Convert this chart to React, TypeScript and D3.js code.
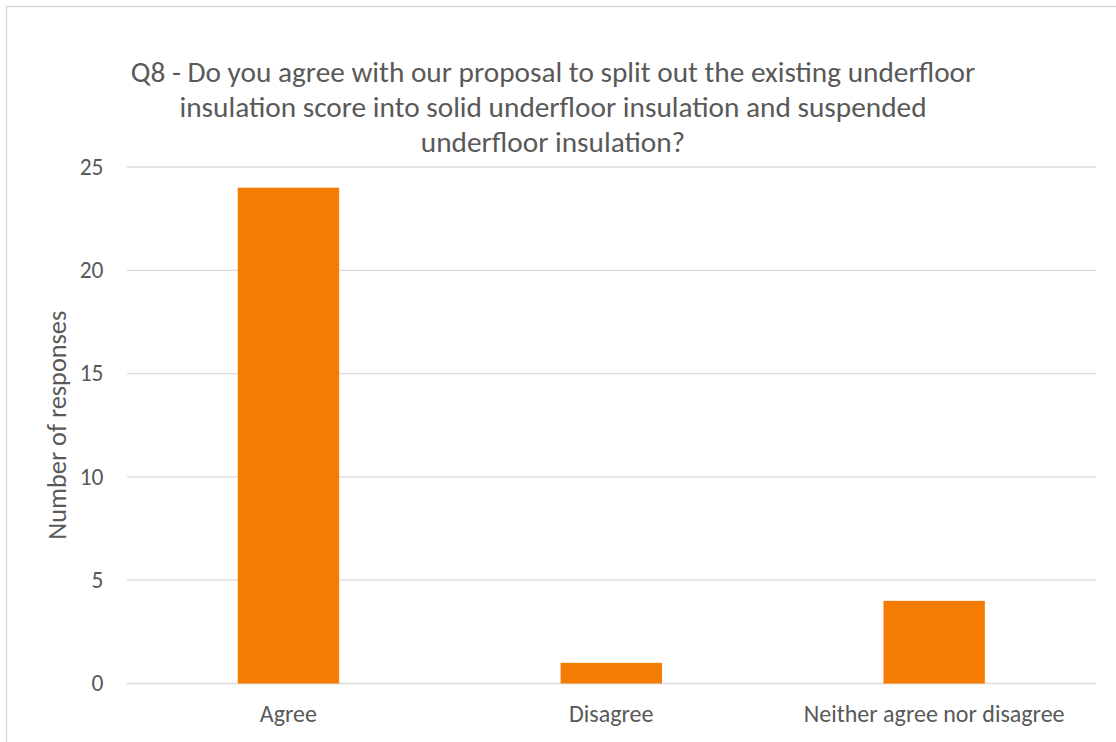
import React from "react";
import * as d3 from "d3";

const categories = ["Agree", "Disagree", "Neither agree nor disagree"];
const values = [24, 1, 4];
const yTicks = [0, 5, 10, 15, 20, 25];
const titleLines = [
  "Q8 - Do you agree with our proposal to split out the existing underfloor",
  "insulation score into solid underfloor insulation and suspended",
  "underfloor insulation?",
];
const yAxisTitle = "Number of responses";

const W = 1116;
const H = 742;
const FONT = "Carlito, Calibri, 'Open Sans', sans-serif";
const TEXT = "#595959";
const GRID = "#d9d9d9";
const BAR = "#f47c03";

export default function App() {
  const left = 127;
  const right = 1095.6;
  const top = 167;
  const bottom = 683.5;

  const x = d3.scaleBand<string>().domain(categories).range([left, right]).paddingInner(0.686).paddingOuter(0.343);
  const y = d3.scaleLinear().domain([0, 25]).range([bottom, top]);

  return (
    <svg width={W} height={H} style={{ position: "absolute", left: 0, top: 0, background: "#fff" }}>
      <rect x={6.5} y={6.5} width={W + 20} height={H + 20} fill="#fff" stroke={GRID} strokeWidth={1.5} />
      {titleLines.map((t, i) => (
        <text key={i} x={553} y={81.5 + i * 35} textAnchor="middle" fontFamily={FONT} fontSize={29.3} fill={TEXT}>
          {t}
        </text>
      ))}
      {yTicks.map((t) => (
        <g key={t}>
          <line x1={left} x2={right} y1={y(t)} y2={y(t)} stroke={GRID} strokeWidth={1.3} />
          <text x={103.5} y={y(t)} dy="0.33em" textAnchor="end" fontFamily={FONT} fontSize={23.5} fill={TEXT}>
            {t}
          </text>
        </g>
      ))}
      {categories.map((c, i) => (
        <rect key={c} x={x(c)} y={y(values[i])} width={x.bandwidth()} height={y(0) - y(values[i])} fill={BAR} />
      ))}
      {categories.map((c) => (
        <text key={c} x={(x(c) ?? 0) + x.bandwidth() / 2} y={722} textAnchor="middle" fontFamily={FONT} fontSize={24} fill={TEXT}>
          {c}
        </text>
      ))}
      <text transform={`translate(65.5,${(top + bottom) / 2}) rotate(-90)`} textAnchor="middle" fontFamily={FONT} fontSize={26.3} fill={TEXT}>
        {yAxisTitle}
      </text>
    </svg>
  );
}
